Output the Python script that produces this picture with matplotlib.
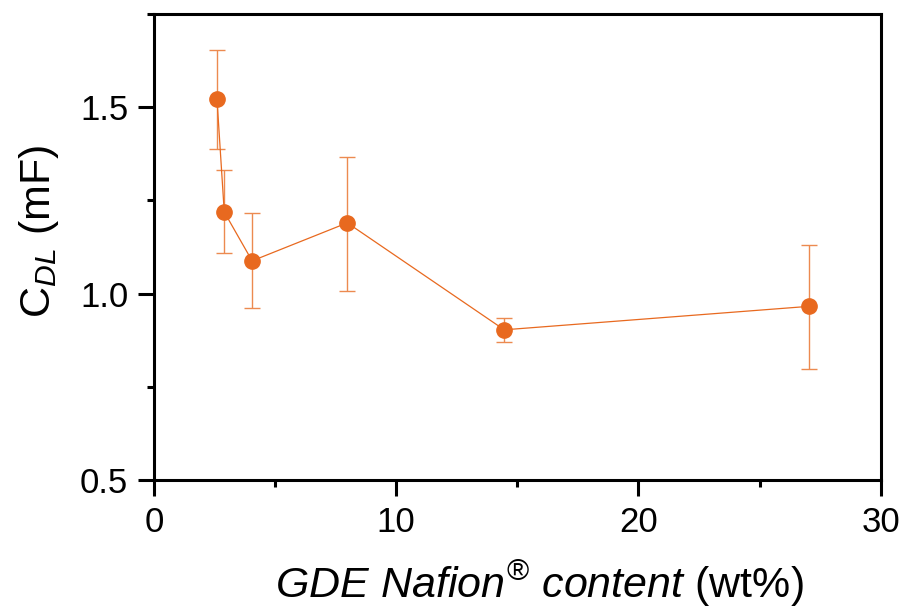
import matplotlib
matplotlib.use("Agg")
import matplotlib.pyplot as plt
from matplotlib.ticker import MultipleLocator

# Data
nafion_wt = [2.6, 2.9, 4.05, 7.98, 14.46, 27.05]
cdl_mF = [1.521, 1.219, 1.088, 1.190, 0.903, 0.966]
err_upper = [1.653, 1.333, 1.216, 1.367, 0.936, 1.131]
err_lower = [1.387, 1.108, 0.961, 1.007, 0.870, 0.799]

xticks = [0, 10, 20, 30]
yticks = [0.5, 1.0, 1.5]

plt.rcParams['font.family'] = ['Liberation Sans', 'DejaVu Sans']
plt.rcParams['mathtext.fontset'] = 'custom'
plt.rcParams['mathtext.rm'] = 'Liberation Sans'
plt.rcParams['mathtext.it'] = 'Liberation Sans:italic'
plt.rcParams['mathtext.bf'] = 'Liberation Sans:bold'

color = '#E8691F'

fig = plt.figure(figsize=(9.06, 6.09), dpi=100)
ax = fig.add_axes([0.170, 0.2118, 0.802, 0.765])

yerr = [[c - l for c, l in zip(cdl_mF, err_lower)],
        [u - c for c, u in zip(cdl_mF, err_upper)]]
ax.errorbar(nafion_wt, cdl_mF, yerr=yerr, fmt='o-', color=color,
            markerfacecolor=color, markeredgecolor=color,
            ecolor='#EC8A50', elinewidth=1.0, capsize=5.8, capthick=1.0,
            markersize=11, linewidth=0.9)

ax.set_xlim(0, 30)
ax.set_ylim(0.5, 1.75)
ax.set_xticks(xticks)
ax.set_yticks(yticks)
ax.set_xticklabels([str(t) for t in xticks])
ax.set_yticklabels([f'{t:.1f}' for t in yticks])
ax.xaxis.set_minor_locator(MultipleLocator(5))
ax.yaxis.set_minor_locator(MultipleLocator(0.25))

for s in ax.spines.values():
    s.set_linewidth(2.2)
ax.tick_params(which='major', direction='out', length=11.5, width=2.2,
               labelsize=25, pad=7, top=False, right=False)
ax.tick_params(which='minor', direction='out', length=5, width=2.2,
               top=False, right=False)

ax.set_ylabel(r'C$_{\mathit{DL}}$ (mF)', fontsize=31, va='baseline')
ax.set_xlabel(r'$\mathit{GDE\ Nafion}^{\mathrm{®}}\ \mathit{content}$ (wt%)', fontsize=31, va='baseline')
ax.xaxis.set_label_coords(0.53, -0.253)
ax.yaxis.set_label_coords(-0.143, 0.534)

fig.savefig('out.png', dpi=100)
